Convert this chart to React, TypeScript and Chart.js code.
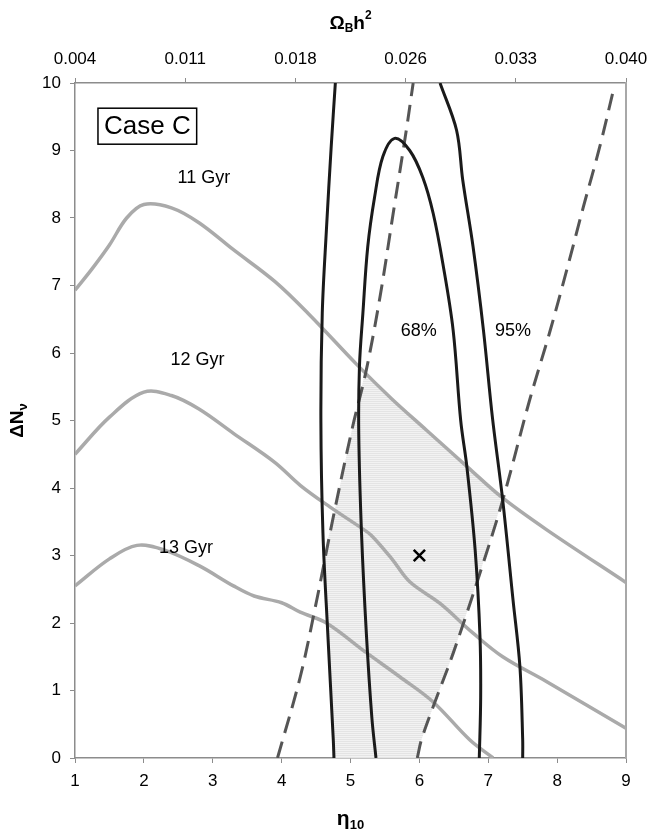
import React, { useEffect, useRef } from 'react';
import { Chart, registerables } from 'chart.js';

Chart.register(...registerables);

const FONT = '"Liberation Sans", Arial, Helvetica, sans-serif';

// ---- axes ----
const xMin = 1;
const xMax = 9;
const yMin = 0;
const yMax = 10;
const topAxisMin = 0.004;
const topAxisMax = 0.04;
const topTickLabels = ['0.004', '0.011', '0.018', '0.026', '0.033', '0.040'];

// ---- age curves (grey) ----
const age11X = [1, 1.25, 1.5, 1.75, 2.0, 2.4, 2.8, 3.3, 3.9, 4.4, 5.1, 5.6, 6.1, 6.7, 7.2, 7.85, 9];
const age11Y = [6.93, 7.25, 7.6, 8.0, 8.2, 8.15, 7.93, 7.53, 7.06, 6.57, 5.82, 5.32, 4.86, 4.31, 3.86, 3.38, 2.6];

const age12X = [1, 1.5, 2.0, 2.4, 2.8, 3.3, 3.9, 4.27, 4.7, 5.14, 5.3, 5.6, 5.86, 6.3, 6.78, 7.21, 7.85, 9];
const age12Y = [4.5, 5.05, 5.42, 5.37, 5.17, 4.81, 4.38, 4.04, 3.72, 3.42, 3.3, 2.95, 2.61, 2.29, 1.85, 1.5, 1.13, 0.44];

const age13X = [1, 1.5, 1.9, 2.3, 2.8, 3.3, 3.6, 4.0, 4.27, 4.65, 5.23, 5.72, 6.2, 6.73, 7.07];
const age13Y = [2.55, 2.95, 3.15, 3.08, 2.85, 2.55, 2.4, 2.3, 2.16, 2.0, 1.56, 1.2, 0.83, 0.27, 0.0];

// ---- confidence contours (black) ----
const c68X = [5.37, 5.31, 5.23, 5.16, 5.12, 5.13, 5.18, 5.25, 5.35, 5.47, 5.64, 5.86, 6.05, 6.2, 6.34, 6.49, 6.6, 6.69, 6.81, 6.88, 6.89, 6.87];
const c68Y = [0, 0.6, 1.85, 3.33, 4.8, 5.8, 6.59, 7.57, 8.31, 8.91, 9.18, 9.0, 8.6, 8.07, 7.33, 6.34, 5.0, 4.31, 3.08, 1.8, 0.9, 0];

const c95LeftX = [4.78, 4.72, 4.65, 4.59, 4.57, 4.6, 4.67, 4.75, 4.76];
const c95LeftY = [10, 9.06, 7.82, 6.59, 5.0, 3.33, 1.85, 0.27, 0];

const c95RightX = [7.5, 7.5, 7.46, 7.36, 7.21, 7.06, 6.93, 6.78, 6.63, 6.54, 6.3];
const c95RightY = [0, 0.27, 1.35, 2.34, 3.82, 5.05, 6.34, 7.57, 8.56, 9.3, 10];

// ---- dashed bounds ----
const dashLeftX = [3.94, 4.27, 4.51, 4.75, 5.02, 5.23, 5.43, 5.62, 5.81, 5.91];
const dashLeftY = [0, 1.2, 2.34, 3.57, 4.86, 5.75, 6.84, 8.07, 9.3, 10];

const dashRightX = [5.97, 6.03, 6.2, 6.49, 6.88, 7.21, 7.6, 7.89, 8.14, 8.38, 8.62, 8.83];
const dashRightY = [0, 0.27, 0.76, 1.55, 2.74, 3.82, 5.3, 6.3, 7.23, 8.16, 9.06, 9.95];

// ---- shaded allowed region ----
const shadeX = [4.76, 4.75, 4.67, 4.61, 4.75, 5.02, 5.21, 5.57, 6.11, 6.69, 7.21, 6.88, 6.49, 6.2, 6.03, 5.97];
const shadeY = [0, 0.27, 1.85, 2.98, 3.57, 4.86, 5.71, 5.32, 4.86, 4.31, 3.85, 2.74, 1.55, 0.76, 0.27, 0];

// ---- best fit marker ----
const bestX = [6.0];
const bestY = [3.0];

// ---- annotations ----
const labelTexts = ['11 Gyr', '12 Gyr', '13 Gyr', '68%', '95%'];
const labelX = [2.87, 2.78, 2.61, 5.99, 7.36];
const labelY = [8.59, 5.9, 3.11, 6.33, 6.33];
const caseText = 'Case C';
const caseX = [2.05];
const caseY = [9.36];

const pts = (xs: number[], ys: number[]) => xs.map((x, i) => ({ x, y: ys[i] }));

type Part = { t: string; size: number; dy: number };

function drawRich(ctx: CanvasRenderingContext2D, parts: Part[], cx: number, cy: number) {
  let total = 0;
  const widths = parts.map((p) => {
    ctx.font = `bold ${p.size}px ${FONT}`;
    const w = ctx.measureText(p.t).width;
    total += w;
    return w;
  });
  let x = cx - total / 2;
  ctx.textBaseline = 'middle';
  ctx.textAlign = 'left';
  parts.forEach((p, i) => {
    ctx.font = `bold ${p.size}px ${FONT}`;
    ctx.fillText(p.t, x, cy + p.dy);
    x += widths[i];
  });
}

const shadePlugin = {
  id: 'shadeRegion',
  beforeDatasetsDraw(chart: any) {
    const idx = chart.data.datasets.findIndex((d: any) => d.label === 'shade');
    const meta = chart.getDatasetMeta(idx);
    const ctx = chart.ctx as CanvasRenderingContext2D;
    const pc = document.createElement('canvas');
    pc.width = 4;
    pc.height = 2;
    const p = pc.getContext('2d')!;
    p.fillStyle = '#f2f2f2';
    p.fillRect(0, 0, 4, 1);
    p.fillStyle = '#e4e4e4';
    p.fillRect(0, 1, 4, 1);
    const pattern = ctx.createPattern(pc, 'repeat');
    ctx.save();
    ctx.beginPath();
    meta.data.forEach((pt: any, i: number) => {
      if (i === 0) ctx.moveTo(pt.x, pt.y);
      else ctx.lineTo(pt.x, pt.y);
    });
    ctx.closePath();
    ctx.fillStyle = pattern || '#ececec';
    ctx.fill();
    ctx.restore();
  },
};

const annotationPlugin = {
  id: 'annotations',
  afterDatasetsDraw(chart: any) {
    const ctx = chart.ctx as CanvasRenderingContext2D;
    const xs = chart.scales.x;
    const ys = chart.scales.y;
    ctx.save();
    ctx.fillStyle = '#000';
    ctx.textAlign = 'center';
    ctx.textBaseline = 'middle';
    ctx.font = `18px ${FONT}`;
    labelTexts.forEach((t, i) => {
      ctx.fillText(t, xs.getPixelForValue(labelX[i]), ys.getPixelForValue(labelY[i]));
    });
    // Case C box
    const cx = xs.getPixelForValue(caseX[0]);
    const cy = ys.getPixelForValue(caseY[0]);
    ctx.font = `26px ${FONT}`;
    const w = ctx.measureText(caseText).width;
    const bw = w + 12;
    const bh = 36;
    ctx.fillStyle = '#fff';
    ctx.fillRect(cx - bw / 2, cy - bh / 2, bw, bh);
    ctx.strokeStyle = '#000';
    ctx.lineWidth = 1.5;
    ctx.strokeRect(cx - bw / 2, cy - bh / 2, bw, bh);
    ctx.fillStyle = '#000';
    ctx.fillText(caseText, cx, cy + 1);
    ctx.restore();
  },
  afterDraw(chart: any) {
    const ctx = chart.ctx as CanvasRenderingContext2D;
    const area = chart.chartArea;
    const midX = (area.left + area.right) / 2;
    const midY = (area.top + area.bottom) / 2;
    ctx.save();
    ctx.fillStyle = '#000';
    // top title: Omega_B h^2
    drawRich(
      ctx,
      [
        { t: 'Ω', size: 19, dy: 0 },
        { t: 'B', size: 12, dy: 5 },
        { t: 'h', size: 19, dy: 0 },
        { t: '2', size: 12, dy: -8 },
      ],
      midX,
      24
    );
    // bottom title: eta_10
    drawRich(
      ctx,
      [
        { t: 'η', size: 21, dy: 0 },
        { t: '10', size: 13, dy: 6 },
      ],
      midX,
      819
    );
    // left title: Delta N_nu
    ctx.translate(18, midY);
    ctx.rotate(-Math.PI / 2);
    drawRich(
      ctx,
      [
        { t: 'ΔN', size: 19, dy: 0 },
        { t: 'ν', size: 13, dy: 5 },
      ],
      0,
      0
    );
    ctx.restore();
  },
};

export default function App() {
  const ref = useRef<HTMLCanvasElement | null>(null);

  useEffect(() => {
    if (!ref.current) return;
    const black = '#1a1a1a';
    const grey = '#aaaaaa';
    const dash = '#555555';
    const lineDs = (label: string, xs: number[], ys: number[], color: string, width: number, dashed = false) => ({
      label,
      data: pts(xs, ys),
      showLine: true,
      borderColor: color,
      backgroundColor: color,
      borderWidth: width,
      borderDash: dashed ? [17, 9] : [],
      pointRadius: 0,
      pointHoverRadius: 0,
      tension: 0.35,
      fill: false,
    });

    const axisGrid = {
      display: true,
      drawOnChartArea: false,
      drawTicks: true,
      tickLength: 5,
      color: '#8c8c8c',
      lineWidth: 1,
    };
    const axisBorder = { display: true, color: '#8c8c8c', width: 1.5 };
    const tickFont = { family: FONT, size: 17 };
    const noSidePad = (s: any) => {
      s.paddingLeft = 0;
      s.paddingRight = 0;
    };

    const chart = new Chart(ref.current, {
      type: 'scatter',
      data: {
        datasets: [
          {
            label: 'best',
            data: pts(bestX, bestY),
            pointStyle: 'crossRot',
            pointRadius: 8,
            borderWidth: 2.5,
            borderColor: '#000',
            backgroundColor: '#000',
            showLine: false,
          } as any,
          lineDs('c68', c68X, c68Y, black, 3),
          lineDs('c95L', c95LeftX, c95LeftY, black, 3),
          lineDs('c95R', c95RightX, c95RightY, black, 3),
          lineDs('dashL', dashLeftX, dashLeftY, dash, 3, true),
          lineDs('dashR', dashRightX, dashRightY, dash, 3, true),
          lineDs('age11', age11X, age11Y, grey, 3.5),
          lineDs('age12', age12X, age12Y, grey, 3.5),
          lineDs('age13', age13X, age13Y, grey, 3.5),
          {
            label: 'shade',
            data: pts(shadeX, shadeY),
            showLine: false,
            pointRadius: 0,
            pointHoverRadius: 0,
          } as any,
        ],
      },
      options: {
        animation: false,
        responsive: true,
        maintainAspectRatio: false,
        events: [],
        layout: { padding: { left: 0, right: 23, top: 0, bottom: 0 } },
        plugins: {
          legend: { display: false },
          tooltip: { enabled: false },
          title: { display: false },
        },
        scales: {
          x: {
            type: 'linear',
            position: 'bottom',
            min: xMin,
            max: xMax,
            ticks: { stepSize: 1, color: '#000', font: tickFont, padding: 8, maxRotation: 0 },
            grid: axisGrid,
            border: axisBorder,
            afterFit: (s: any) => {
              s.height = 79;
              noSidePad(s);
            },
          },
          x2: {
            type: 'linear',
            position: 'top',
            min: topAxisMin,
            max: topAxisMax,
            afterBuildTicks: (s: any) => {
              const n = topTickLabels.length;
              s.ticks = topTickLabels.map((_, i) => ({
                value: topAxisMin + ((topAxisMax - topAxisMin) * i) / (n - 1),
              }));
            },
            ticks: {
              color: '#000',
              font: tickFont,
              padding: 8,
              maxRotation: 0,
              autoSkip: false,
              callback: (_v: any, i: number) => topTickLabels[i],
            },
            grid: axisGrid,
            border: axisBorder,
            afterFit: (s: any) => {
              s.height = 83;
              noSidePad(s);
            },
          },
          y: {
            type: 'linear',
            position: 'left',
            min: yMin,
            max: yMax,
            ticks: { stepSize: 1, color: '#000', font: tickFont, padding: 9 },
            grid: axisGrid,
            border: axisBorder,
            afterFit: (s: any) => {
              s.width = 75;
              s.paddingTop = 0;
              s.paddingBottom = 0;
            },
          },
          y2: {
            type: 'linear',
            position: 'right',
            min: yMin,
            max: yMax,
            ticks: { display: false },
            grid: { display: false, drawTicks: false },
            border: { display: true, color: '#a8a8a8', width: 2 },
            afterFit: (s: any) => {
              s.width = 0;
              s.paddingTop = 0;
              s.paddingBottom = 0;
            },
          },
        },
      } as any,
      plugins: [shadePlugin, annotationPlugin],
    });
    return () => chart.destroy();
  }, []);

  return (
    <div style={{ position: 'absolute', left: 0, top: 0, width: 649, height: 837, background: '#fff' }}>
      <canvas ref={ref} />
    </div>
  );
}
